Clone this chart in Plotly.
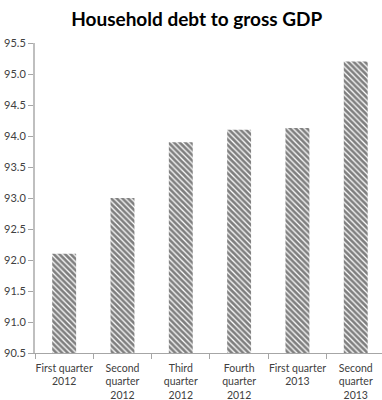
import plotly.graph_objects as go

categories = ["First quarter<br>2012", "Second<br>quarter<br>2012", "Third<br>quarter<br>2012",
              "Fourth<br>quarter<br>2012", "First quarter<br>2013", "Second<br>quarter<br>2013"]
values = [92.1, 93.0, 93.9, 94.1, 94.13, 95.2]
y_ticks = [90.5, 91.0, 91.5, 92.0, 92.5, 93.0, 93.5, 94.0, 94.5, 95.0, 95.5]

fig = go.Figure()
fig.add_trace(go.Bar(
    x=categories, y=values,
    marker=dict(color="white", line=dict(width=0),
                pattern=dict(shape="\\", fgcolor="black", bgcolor="white", size=4, solidity=0.68)),
    hoverinfo="skip",
))

fig.update_layout(
    width=382, height=400,
    margin=dict(l=35, r=0, t=43, b=47),
    paper_bgcolor="white", plot_bgcolor="white",
    title=dict(text="<b>Household debt to gross GDP</b>", x=0.515, xanchor="center",
               yref="container", y=1 - 19 / 400, yanchor="middle",
               font=dict(family="Lato", size=19, color="black")),
    showlegend=False,
    bargap=0.59,
)
fig.update_xaxes(
    type="category",
    range=[-0.5, 5.45],
    tickangle=0, automargin=False,
    showline=True, linecolor="#a6a6a6", linewidth=1,
    ticks="outside", tickson="boundaries", ticklen=5, tickcolor="#a6a6a6",
    ticklabelstandoff=5,
    tickfont=dict(family="Lato", size=10.5, color="#404040"),
    showgrid=False, zeroline=False,
)
fig.update_yaxes(
    range=[90.5, 95.5], automargin=False,
    tickmode="array", tickvals=y_ticks, ticktext=[f"{t:.1f}" for t in y_ticks],
    showline=True, linecolor="#bfbfbf", linewidth=2,
    ticks="outside", ticklen=5, tickcolor="#a6a6a6",
    tickfont=dict(family="Lato", size=11, color="#404040"),
    showgrid=False, zeroline=False,
)
fig.write_html("out.html", config={"displayModeBar": False},
               post_script="document.body.style.margin='0';")
